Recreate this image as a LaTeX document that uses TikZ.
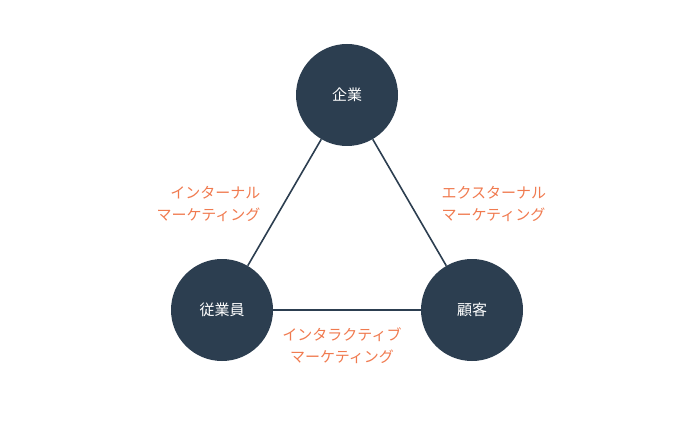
\documentclass[tikz,border=0pt]{standalone}
\usepackage{fontspec}
\newfontfamily\cjk{Noto Sans CJK JP}
\definecolor{navy}{HTML}{2C3E50}
\definecolor{lab}{HTML}{F07A4F}
\begin{document}
\begin{tikzpicture}[x=1pt,y=-1pt,
  circ/.style={circle,fill=navy,minimum size=102pt,inner sep=0pt,text=white,font=\cjk\fontsize{15}{18}\selectfont},
  conn/.style={draw=navy,line width=1.6pt},
  lbl/.style={text=lab,font=\cjk\fontsize{15}{22}\selectfont}]
\useasboundingbox (0,0) rectangle (700,427);
\node[circ] (a) at (347,95) {企業};
\node[circ] (b) at (222,310) {従業員};
\node[circ] (c) at (472,310) {顧客};
\draw[conn] (a) -- (b);
\draw[conn] (a) -- (c);
\draw[conn] (b) -- (c);
\node[lbl,align=right,anchor=east] (l1) at (264,204) {インターナル\\マーケティング};
\node[lbl,align=left,anchor=west] (l2) at (438,204) {エクスターナル\\マーケティング};
\node[lbl,align=center] (l3) at (342,346) {インタラクティブ\\マーケティング};
\end{tikzpicture}
\end{document}
